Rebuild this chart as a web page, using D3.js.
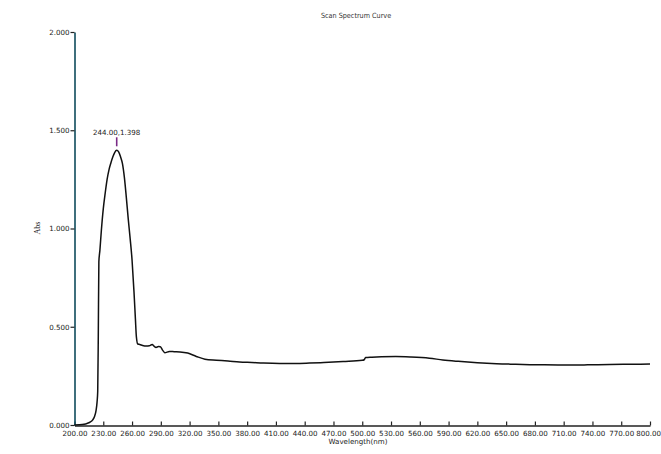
<!DOCTYPE html>
<html>
<head>
<meta charset="utf-8">
<script src="https://cdn.jsdelivr.net/npm/d3@7"></script>
<style>
  html, body { margin: 0; padding: 0; background: #fff; }
  svg { display: block; }
</style>
</head>
<body>
<svg id="chart" width="661" height="454"></svg>
<script>
// Scan spectrum: wavelength (nm) against absorbance (Abs)
const wavelengths = [
  200, 205, 210, 213, 216, 219, 221, 222.5, 223.5, 224.2, 224.8, 225.4,
  226.5, 228, 230, 232, 234, 236, 238, 240, 242, 244, 246, 248, 250, 252,
  254, 256, 258, 260, 262, 263.5, 264.5, 266, 268, 271, 275, 278, 281,
  283, 285, 287.5, 289.5, 292, 294, 299, 304, 310, 318, 327, 336, 348, 360,
  372, 385, 397, 414, 430, 445, 460, 480, 500, 502, 503.5, 510, 520, 535,
  550, 570, 584, 600, 620, 640, 660, 675, 690, 716, 735, 758, 780, 800
];
const absorbance = [
  0.000, 0.001, 0.004, 0.008, 0.014, 0.026, 0.045, 0.075, 0.115, 0.170, 0.450, 0.830,
  0.890, 0.990, 1.100, 1.180, 1.250, 1.300, 1.335, 1.365, 1.388, 1.398, 1.390, 1.365, 1.330, 1.260,
  1.160, 1.050, 0.950, 0.840, 0.680, 0.540, 0.450, 0.412, 0.410, 0.405, 0.402, 0.403, 0.410,
  0.401, 0.395, 0.399, 0.398, 0.380, 0.368, 0.374, 0.373, 0.372, 0.366, 0.349, 0.335, 0.330, 0.326,
  0.321, 0.318, 0.315, 0.313, 0.313, 0.315, 0.318, 0.323, 0.329, 0.332, 0.343, 0.345, 0.347, 0.348,
  0.346, 0.340, 0.331, 0.324, 0.317, 0.312, 0.309, 0.307, 0.306, 0.305, 0.306, 0.308, 0.309, 0.310
];
const xTicks = [200, 230, 260, 290, 320, 350, 380, 410, 440, 470, 500, 530, 560,
                590, 620, 650, 680, 710, 740, 770, 800];
const yTicks = [0, 0.5, 1.0, 1.5, 2.0];
const peakWavelength = 244.00;
const peakAbsorbance = 1.398;

const titleText = "Scan Spectrum Curve";
const xTitle = "Wavelength(nm)";
const yTitle = "Abs";

const svg = d3.select("#chart");
const tickFont = "'DejaVu Sans', Verdana, sans-serif";

const x = d3.scaleLinear().domain([200, 800]).range([74.5, 650]);
const y = d3.scaleLinear().domain([0, 2]).range([425, 32]);

// Title
svg.append("text")
  .attr("x", 356).attr("y", 17.5)
  .attr("text-anchor", "middle")
  .attr("font-family", "'Liberation Sans Narrow', 'DejaVu Sans Condensed', sans-serif")
  .attr("font-size", 7.2)
  .attr("fill", "#333")
  .text(titleText);

// X axis
const xAxis = d3.axisBottom(x)
  .tickValues(xTicks)
  .tickFormat(d3.format(".2f"))
  .tickSizeInner(-4)
  .tickSizeOuter(0)
  .tickPadding(7);
const gx = svg.append("g")
  .attr("transform", `translate(0,${y(0) + 0.5})`)
  .call(xAxis);
gx.select(".domain").attr("stroke", "#222").attr("stroke-width", 1.4);
gx.selectAll(".tick line").attr("stroke", "#222").attr("stroke-width", 1.2);
gx.selectAll(".tick text")
  .attr("font-family", tickFont)
  .attr("font-size", 7.1)
  .attr("fill", "#222")
  .attr("dy", "0.45em");
// keep the last label inside the right edge
gx.selectAll(".tick text").filter(d => d === 800)
  .attr("text-anchor", "end")
  .attr("dx", 10.5);

// Y axis
const yAxis = d3.axisLeft(y)
  .tickValues(yTicks)
  .tickFormat(d3.format(".3f"))
  .tickSizeInner(4)
  .tickSizeOuter(0)
  .tickPadding(1);
const gy = svg.append("g")
  .attr("transform", `translate(${x(200)},0)`)
  .call(yAxis);
gy.select(".domain").attr("stroke", "#0f4b5c").attr("stroke-width", 1.6);
gy.selectAll(".tick line").attr("stroke", "#222").attr("stroke-width", 1.2);
gy.selectAll(".tick text")
  .attr("font-family", tickFont)
  .attr("font-size", 7.1)
  .attr("fill", "#222");

// Axis titles
svg.append("text")
  .attr("x", 358).attr("y", 443.5)
  .attr("text-anchor", "middle")
  .attr("font-family", tickFont)
  .attr("font-size", 7.1)
  .attr("fill", "#222")
  .text(xTitle);

svg.append("text")
  .attr("transform", "translate(39.5,228) rotate(-90)")
  .attr("text-anchor", "middle")
  .attr("font-family", "'Liberation Serif', 'DejaVu Serif', serif")
  .attr("font-size", 8)
  .attr("fill", "#111")
  .text(yTitle);

// Spectrum curve
const points = wavelengths.map((w, i) => [w, absorbance[i]]);
const line = d3.line()
  .x(d => x(d[0]))
  .y(d => y(d[1]))
  .curve(d3.curveMonotoneX);
svg.append("path")
  .datum(points)
  .attr("fill", "none")
  .attr("stroke", "#111")
  .attr("stroke-width", 1.5)
  .attr("stroke-linejoin", "round")
  .attr("d", line);

// Peak marker and label
const px = x(peakWavelength), py = y(peakAbsorbance);
svg.append("line")
  .attr("x1", px).attr("x2", px)
  .attr("y1", py - 13).attr("y2", py - 4)
  .attr("stroke", "#7a2a86")
  .attr("stroke-width", 1.6);
svg.append("text")
  .attr("x", px).attr("y", py - 15.5)
  .attr("text-anchor", "middle")
  .attr("font-family", tickFont)
  .attr("font-size", 7.1)
  .attr("fill", "#222")
  .text(`${peakWavelength.toFixed(2)},${peakAbsorbance.toFixed(3)}`);
</script>
</body>
</html>
